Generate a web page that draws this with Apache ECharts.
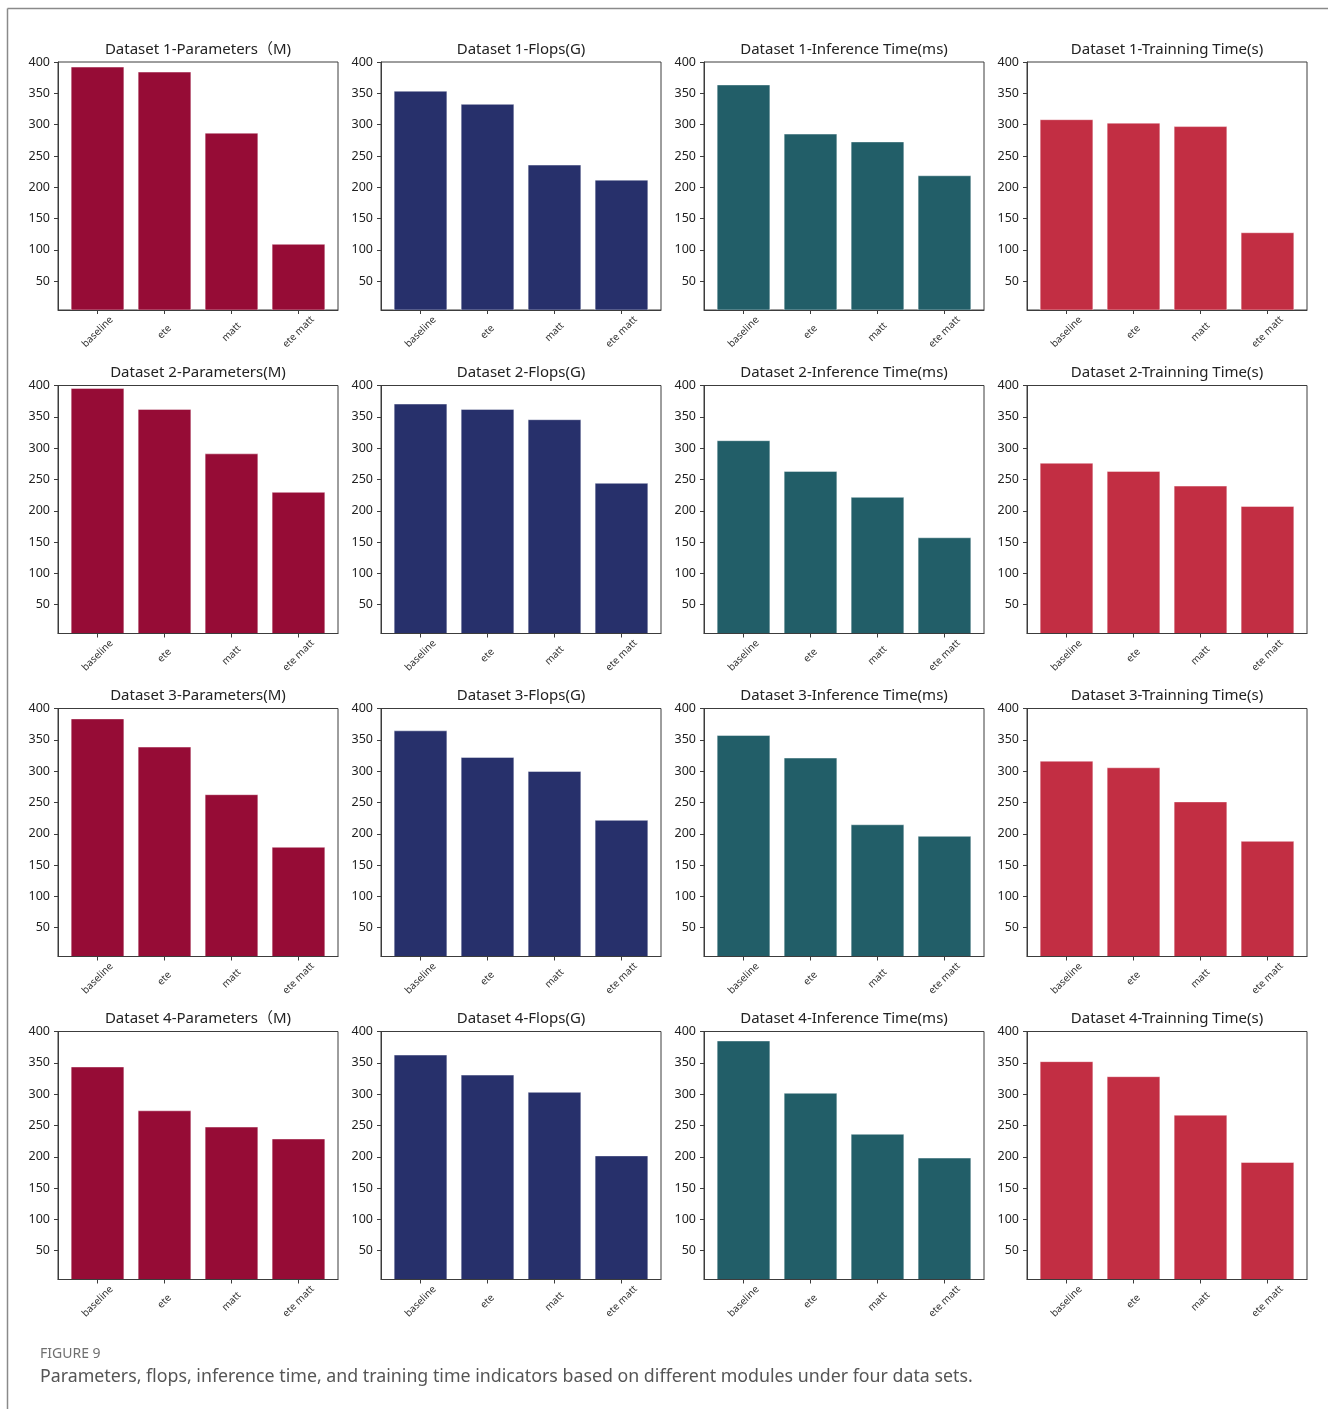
<!DOCTYPE html>
<html><head><meta charset="utf-8">
<script src="https://cdn.jsdelivr.net/npm/echarts@6/dist/echarts.min.js"></script>
<style>html,body{margin:0;padding:0;background:#fff}#c{width:1328px;height:1409px}</style>
</head><body><div id="c"></div>
<script>
// ---- data ----
const categories = ['baseline', 'ete', 'matt', 'ete matt'];
const yTicks = [50, 100, 150, 200, 250, 300, 350, 400];
const xTicks = [0, 1, 2, 3];

const titlesDataset1 = ['Dataset 1-Parameters（M)', 'Dataset 1-Flops(G)', 'Dataset 1-Inference Time(ms)', 'Dataset 1-Trainning Time(s)'];
const titlesDataset2 = ['Dataset 2-Parameters(M)', 'Dataset 2-Flops(G)', 'Dataset 2-Inference Time(ms)', 'Dataset 2-Trainning Time(s)'];
const titlesDataset3 = ['Dataset 3-Parameters(M)', 'Dataset 3-Flops(G)', 'Dataset 3-Inference Time(ms)', 'Dataset 3-Trainning Time(s)'];
const titlesDataset4 = ['Dataset 4-Parameters（M)', 'Dataset 4-Flops(G)', 'Dataset 4-Inference Time(ms)', 'Dataset 4-Trainning Time(s)'];

// values per dataset (rows): baseline, ete, matt, ete matt
const parameters = [
  [392.5, 384.5, 287, 109.5],
  [396, 362.5, 291.5, 230],
  [384, 339, 263, 179],
  [344, 274, 248, 229]
];
const flops = [
  [354, 333, 236, 212],
  [371, 362.5, 346, 244.5],
  [365, 322.5, 300, 222],
  [363, 331, 303.5, 202]
];
const inferenceTime = [
  [364, 285.5, 273, 219],
  [312.5, 263.5, 222, 157.5],
  [357.5, 321.5, 215, 196.5],
  [385.5, 302, 236.5, 198.5]
];
const trainingTime = [
  [308.5, 303, 297.5, 128],
  [276.5, 263.5, 240, 207.5],
  [316.5, 306, 251.5, 188.5],
  [352.5, 328.5, 267, 191.5]
];

const captionLabel = 'FIGURE 9';
const captionText = 'Parameters, flops, inference time, and training time indicators based on different modules under four data sets.';

// ---- layout / style ----
const metrics = [parameters, flops, inferenceTime, trainingTime];
const titleRows = [titlesDataset1, titlesDataset2, titlesDataset3, titlesDataset4];
const colors = ['#960C36', '#27306B', '#225E68', '#C22E43'];
const colLeft = [58, 381, 704, 1027];
const rowTop = [62, 385.5, 708.5, 1031.5];
const W = 280, H = 248;
const FONT = '"Noto Sans", "Noto Sans CJK SC", sans-serif';

const grid = [], xAxis = [], yAxis = [], series = [], title = [];
let idx = 0;
for (let r = 0; r < 4; r++) {
  for (let c = 0; c < 4; c++) {
    grid.push({
      left: colLeft[c], top: rowTop[r], width: W, height: H,
      show: true, borderColor: '#3c3c3c', borderWidth: 1, backgroundColor: 'transparent'
    });
    xAxis.push({
      type: 'value', gridIndex: idx, min: -0.59, max: 3.59, z: 5,
      axisLine: { show: true, onZero: false, lineStyle: { color: '#3c3c3c', width: 1 } },
      axisTick: { show: true, customValues: xTicks, length: 4, inside: false, lineStyle: { color: '#3c3c3c' } },
      axisLabel: {
        show: true, customValues: xTicks, rotate: 45, align: 'center', verticalAlign: 'middle',
        margin: 22, fontSize: 10, color: '#333', fontFamily: FONT,
        formatter: v => categories[Math.round(v)]
      },
      splitLine: { show: false }
    });
    yAxis.push({
      type: 'value', gridIndex: idx, min: 4, max: 400, z: 5,
      axisLine: { show: true, onZero: false, lineStyle: { color: '#3c3c3c', width: 1 } },
      axisTick: { show: true, customValues: yTicks, length: 4, inside: false, lineStyle: { color: '#3c3c3c' } },
      axisLabel: { show: true, customValues: yTicks, margin: 8, fontSize: 12.5, color: '#222', fontFamily: FONT },
      splitLine: { show: false }
    });
    series.push({
      type: 'bar', xAxisIndex: idx, yAxisIndex: idx,
      barWidth: 53.5,
      itemStyle: { color: colors[c], borderColor: 'rgba(255,255,255,0.55)', borderWidth: 0.8 },
      data: metrics[c][r].map((v, i) => [i, v]),
      animation: false
    });
    title.push({
      text: titleRows[r][c],
      left: colLeft[c] + W / 2, top: rowTop[r] - 20, textAlign: 'center', padding: 0,
      textStyle: { fontSize: 15, fontWeight: 'normal', color: '#222', fontFamily: FONT }
    });
    idx++;
  }
}

const chart = echarts.init(document.getElementById('c'), null, { renderer: 'canvas' });
chart.setOption({
  animation: false,
  backgroundColor: '#fff',
  title, grid, xAxis, yAxis, series,
  graphic: [
    { type: 'line', shape: { x1: 7.5, y1: 8.5, x2: 1328, y2: 8.5 }, style: { stroke: '#8a8a8a', lineWidth: 1.5 } },
    { type: 'line', shape: { x1: 7.5, y1: 8.5, x2: 7.5, y2: 1409 }, style: { stroke: '#8a8a8a', lineWidth: 1.5 } },
    { type: 'text', left: 40, top: 1347, style: { text: captionLabel, fill: '#707070', font: '14px ' + FONT } },
    { type: 'text', left: 40, top: 1368, style: { text: captionText, fill: '#555', font: '17.8px ' + FONT } }
  ]
});
</script>
</body></html>
